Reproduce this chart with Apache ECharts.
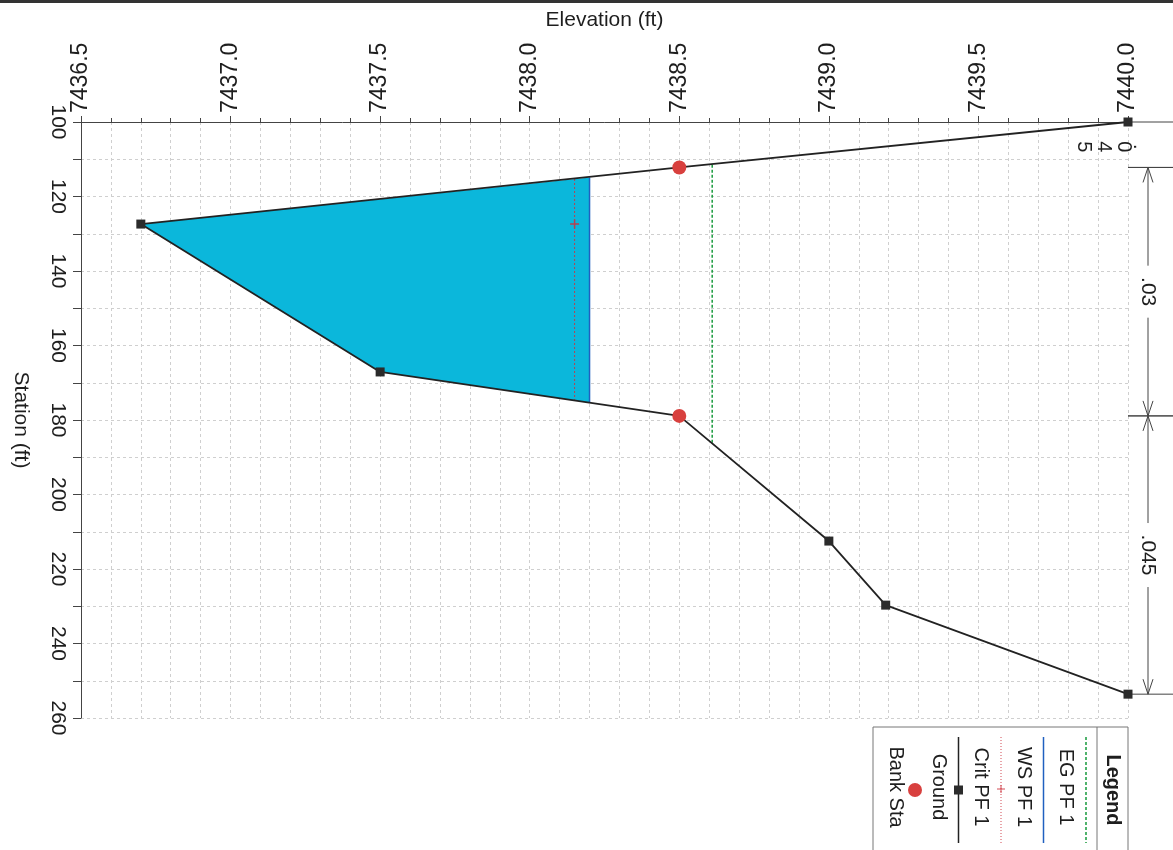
<!DOCTYPE html>
<html>
<head>
<meta charset="utf-8">
<script src="https://cdn.jsdelivr.net/npm/echarts@6/dist/echarts.min.js"></script>
<style>
html, body { margin: 0; padding: 0; background: #fff; }
#chart { width: 1173px; height: 850px; }
</style>
</head>
<body>
<div id="chart"></div>
<script>
// cross section, drawn turned on its side: [elevation, station]
const groundPts = [[7440.0, 100], [7438.5, 112.2], [7436.7, 127.4], [7437.5, 167.1], [7438.5, 178.9], [7439.0, 212.5], [7439.19, 229.7], [7440.0, 253.6]]
const bankPts = [[7438.5, 112.2], [7438.5, 178.9]]
const wsPts = [[7438.2, 114.9], [7438.2, 175.4]]
const waterPoly = [[7438.2, 114.9], [7436.7, 127.4], [7437.5, 167.1], [7438.2, 175.4]]
const critPts = [[7438.15, 115.3], [7438.15, 127.4], [7438.15, 174.8]]
const egPts = [[7438.61, 111.5], [7438.61, 186.2]]
// manning's n zones
const nBounds = [100, 112.2, 178.9, 253.6]
const nValues = ['.045', '.03', '.045']
const legendNames = ['EG PF 1', 'WS PF 1', 'Crit PF 1', 'Ground', 'Bank Sta']

const FONT = '"Liberation Sans", Arial, sans-serif'
const TXT = '#1e1e1e'
const R90 = -Math.PI / 2

const chart = echarts.init(document.getElementById('chart'))

const gridLine = { show: true, lineStyle: { color: '#cfcfcf', type: [3, 3], width: 1 } }

// plus shape for the crit marker
const plusPath = 'path://M-1,-6h2v5h5v2h-5v5h-2v-5h-5v-2h5z'

function legendGraphic () {
    const els = []
    els.push({ type: 'rect', shape: { x: 873, y: 727, width: 255, height: 140 }, style: { fill: 'none', stroke: '#777', lineWidth: 1 } })
    els.push({ type: 'line', shape: { x1: 1097, y1: 727, x2: 1097, y2: 850 }, style: { stroke: '#777', lineWidth: 1 } })
    els.push({ type: 'text', x: 1113, y: 790, rotation: R90, style: { text: 'Legend', font: 'bold 20px ' + FONT, fill: TXT, align: 'center', verticalAlign: 'middle', textAlign: 'center', textVerticalAlign: 'middle' } })
    legendNames.forEach((name, i) => {
        const cx = 1066 - i * 42.5
        els.push({ type: 'text', x: cx, y: 787, rotation: R90, style: { text: name, font: '20px ' + FONT, fill: TXT, align: 'center', verticalAlign: 'middle', textAlign: 'center', textVerticalAlign: 'middle' } })
        const lx = cx + 20
        if (i === 0) els.push({ type: 'line', shape: { x1: lx, y1: 737, x2: lx, y2: 843 }, style: { stroke: '#179a3c', lineWidth: 1.5, lineDash: [3, 2] } })
        if (i === 1) els.push({ type: 'line', shape: { x1: lx, y1: 737, x2: lx, y2: 843 }, style: { stroke: '#2060c0', lineWidth: 1.5 } })
        if (i === 2) {
            els.push({ type: 'line', shape: { x1: lx, y1: 737, x2: lx, y2: 843 }, style: { stroke: '#d24a55', lineWidth: 1, lineDash: [1, 2] } })
            els.push({ type: 'line', shape: { x1: lx - 4, y1: 789, x2: lx + 4, y2: 789 }, style: { stroke: '#d24a55', lineWidth: 1 } })
            els.push({ type: 'line', shape: { x1: lx, y1: 785, x2: lx, y2: 793 }, style: { stroke: '#d24a55', lineWidth: 1 } })
        }
        if (i === 3) {
            els.push({ type: 'line', shape: { x1: lx, y1: 737, x2: lx, y2: 843 }, style: { stroke: '#222', lineWidth: 1.5 } })
            els.push({ type: 'rect', shape: { x: lx - 4.5, y: 785.5, width: 9, height: 9 }, style: { fill: '#2b2b2b' } })
        }
        if (i === 4) els.push({ type: 'circle', shape: { cx: lx - 1, cy: 790, r: 7 }, style: { fill: '#d8403e' } })
    })
    return els
}

chart.setOption({
    animation: false,
    backgroundColor: '#fff',
    grid: { left: 81, top: 122, right: 45, bottom: 132 },
    xAxis: {
        type: 'value',
        position: 'top',
        min: 7436.5,
        max: 7440.0,
        interval: 0.5,
        name: 'Elevation (ft)',
        nameLocation: 'middle',
        nameGap: 91,
        nameTextStyle: { fontFamily: FONT, fontSize: 21, color: TXT },
        axisLine: { lineStyle: { color: '#444', width: 1 } },
        axisTick: { show: true, length: 6, lineStyle: { color: '#444' } },
        minorTick: { show: true, splitNumber: 5, length: 4, lineStyle: { color: '#444' } },
        axisLabel: { rotate: -90, margin: 9, fontFamily: FONT, fontSize: 23, color: TXT, formatter: v => v.toFixed(1) },
        splitLine: gridLine,
        minorSplitLine: gridLine
    },
    yAxis: {
        type: 'value',
        position: 'left',
        inverse: true,
        min: 100,
        max: 260,
        interval: 20,
        name: 'Station (ft)',
        nameLocation: 'middle',
        nameRotate: -90,
        nameGap: 50,
        nameTextStyle: { fontFamily: FONT, fontSize: 21, color: TXT },
        axisLine: { show: true, lineStyle: { color: '#444', width: 1 } },
        axisTick: { show: true, length: 8, lineStyle: { color: '#444' } },
        minorTick: { show: true, splitNumber: 2, length: 8, lineStyle: { color: '#444' } },
        axisLabel: { rotate: -90, margin: 13, fontFamily: FONT, fontSize: 21, color: TXT },
        splitLine: gridLine,
        minorSplitLine: gridLine
    },
    graphic: [
        { type: 'rect', shape: { x: 0, y: 0, width: 1173, height: 3 }, style: { fill: '#333' } }
    ].concat(legendGraphic()),
    series: [
        {
            name: 'water',
            type: 'custom',
            data: [waterPoly[0]],
            encode: { x: 0, y: 1 },
            z: 1,
            renderItem: (params, api) => ({
                type: 'polygon',
                shape: { points: waterPoly.map(p => api.coord(p)) },
                style: { fill: '#0bb7db' }
            })
        },
        {
            name: 'Crit PF 1',
            type: 'line',
            data: critPts.map((p, i) => i === 1 ? { value: p } : { value: p, symbol: 'none' }),
            symbol: plusPath,
            symbolSize: 9,
            showAllSymbol: true,
            z: 3,
            itemStyle: { color: '#b8404f' },
            lineStyle: { color: '#b8404f', width: 1, type: [2, 2] }
        },
        {
            name: 'WS PF 1',
            type: 'line',
            data: wsPts,
            symbol: 'none',
            z: 3,
            lineStyle: { color: '#2060c0', width: 1.5 }
        },
        {
            name: 'EG PF 1',
            type: 'line',
            data: egPts,
            symbol: 'none',
            z: 3,
            lineStyle: { color: '#179a3c', width: 1.5, type: [3, 2] }
        },
        {
            name: 'Ground',
            type: 'line',
            data: groundPts,
            symbol: 'rect',
            symbolSize: 9,
            showAllSymbol: true,
            z: 4,
            itemStyle: { color: '#2b2b2b' },
            lineStyle: { color: '#222', width: 1.8 }
        },
        {
            name: 'Bank Sta',
            type: 'scatter',
            data: bankPts,
            symbol: 'circle',
            symbolSize: 14,
            z: 5,
            itemStyle: { color: '#d8403e', opacity: 1 }
        },
        {
            name: 'n values',
            type: 'custom',
            clip: false,
            z: 2,
            data: nValues.map((v, i) => [7440.0, nBounds[i], nBounds[i + 1], i]),
            encode: { x: 0, y: 1 },
            renderItem: (params, api) => {
                const i = api.value(3)
                const a = api.coord([api.value(0), api.value(1)])
                const b = api.coord([api.value(0), api.value(2)])
                const W = api.getWidth()
                const st = { stroke: '#444', lineWidth: 1 }
                const lx = a[0] + 20
                const kids = [
                    { type: 'line', shape: { x1: a[0], y1: a[1], x2: W, y2: a[1] }, style: st },
                    { type: 'line', shape: { x1: a[0], y1: b[1], x2: W, y2: b[1] }, style: st }
                ]
                const label = nValues[i]
                if (b[1] - a[1] > 80) {
                    const mid = (a[1] + b[1]) / 2
                    const half = label.length * 6 + 8
                    kids.push({ type: 'line', shape: { x1: lx, y1: a[1], x2: lx, y2: mid - half }, style: st })
                    kids.push({ type: 'line', shape: { x1: lx, y1: mid + half, x2: lx, y2: b[1] }, style: st })
                    kids.push({ type: 'polyline', shape: { points: [[lx - 5, a[1] + 15], [lx, a[1]], [lx + 5, a[1] + 15]] }, style: { stroke: '#444', lineWidth: 1, fill: null } })
                    kids.push({ type: 'polyline', shape: { points: [[lx - 5, b[1] - 15], [lx, b[1]], [lx + 5, b[1] - 15]] }, style: { stroke: '#444', lineWidth: 1, fill: null } })
                    kids.push({ type: 'text', x: lx, y: mid, rotation: R90, style: { text: label, font: '21px ' + FONT, fill: TXT, align: 'center', verticalAlign: 'middle' } })
                } else {
                    // narrow zone: characters stacked
                    const mid = (a[1] + b[1]) / 2 + 2
                    label.split('').forEach((ch, k) => {
                        kids.push({ type: 'text', x: a[0] + 12 - k * 20 + (k === 0 ? 0 : 4), y: mid, rotation: R90, style: { text: ch, font: '20px ' + FONT, fill: TXT, align: 'center', verticalAlign: 'middle' } })
                    })
                }
                return { type: 'group', children: kids }
            }
        }
    ]
})
</script>
</body>
</html>
